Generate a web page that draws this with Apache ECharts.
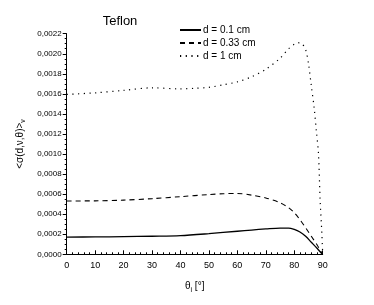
<!DOCTYPE html>
<html><head><meta charset="utf-8">
<script src="https://cdn.jsdelivr.net/npm/echarts@6/dist/echarts.min.js"></script>
<style>html,body{margin:0;padding:0;background:#fff}#c{width:374px;height:305px}</style>
</head><body><div id="c"></div>
<script>
const title = 'Teflon';
const seriesNames = ['d = 0.1 cm', 'd = 0.33 cm', 'd = 1 cm'];
const yTickLabels = ['0,0000','0,0002','0,0004','0,0006','0,0008','0,0010','0,0012','0,0014','0,0016','0,0018','0,0020','0,0022'];
const xTickLabels = [0,10,20,30,40,50,60,70,80,90];

const thetaA = [0, 10, 20, 30, 40, 50, 60, 65, 70, 75, 78, 80, 82, 84, 86, 88, 89, 90];
const solid  = [0.000172, 0.000173, 0.000176, 0.000180, 0.000186, 0.000206, 0.000230, 0.000242, 0.000253, 0.000262, 0.000262, 0.000248, 0.000222, 0.000180, 0.000120, 0.000060, 0.000028, 0.0];

const thetaB = [0, 10, 20, 30, 40, 50, 55, 60, 65, 70, 75, 78, 80, 82, 84, 86, 88, 89, 90];
const dashed = [0.000532, 0.000533, 0.000540, 0.000555, 0.000575, 0.000596, 0.000604, 0.000607, 0.000590, 0.000562, 0.000515, 0.000465, 0.000415, 0.000345, 0.000265, 0.000180, 0.000095, 0.000045, 0.0];

const thetaC = [0, 10, 20, 30, 40, 45, 50, 55, 60, 65, 70, 75, 78, 80, 81, 82.5, 84, 85, 86, 87, 87.8, 88.5, 89.1, 89.7, 90];
const dotted = [0.001595, 0.001610, 0.001635, 0.001660, 0.001650, 0.001655, 0.001665, 0.001690, 0.001720, 0.001770, 0.001845, 0.001955, 0.002050, 0.002095, 0.002110, 0.002105, 0.002040, 0.001900, 0.001680, 0.001460, 0.001220, 0.001010, 0.000540, 0.000210, 0.0];

const pairs = (xs, ys) => xs.map((x, i) => [x, ys[i]]);
const font = 'Liberation Sans, Arial, sans-serif';
const chart = echarts.init(document.getElementById('c'), null, {renderer: 'canvas'});
chart.setOption({
  animation: false,
  backgroundColor: '#fff',
  title: {text: title, left: 115, top: 10, textAlign: 'center',
    textStyle: {fontFamily: font, fontSize: 13, fontWeight: 'normal', color: '#000'}},
  legend: {
    orient: 'vertical', left: 179, top: 25, itemGap: 3, itemWidth: 21, itemHeight: 10,
    padding: 0,
    itemStyle: {opacity: 0},
    textStyle: {fontFamily: font, fontSize: 10, color: '#000', padding: [0,0,0,-3]},
    data: seriesNames
  },
  grid: {left: 66.7, right: 51.3, top: 33.7, bottom: 50.7, containLabel: false},
  xAxis: {
    type: 'value', min: 0, max: 90, interval: 10,
    name: 'θ{s|i} [°]', nameLocation: 'middle', nameGap: 24,
    nameTextStyle: {fontFamily: font, fontSize: 10, color: '#000', rich: {s: {fontSize: 7, verticalAlign: 'bottom', padding: [8,0,0,0], fontFamily: font}}},
    axisLine: {lineStyle: {color: '#000', width: 1}},
    axisTick: {inside: true, length: 4, lineStyle: {color: '#000'}},
    minorTick: {show: true, splitNumber: 5, length: 2, lineStyle: {color: '#000'}},
    axisLabel: {fontFamily: font, fontSize: 9, color: '#000', margin: 7,
      formatter: v => xTickLabels.includes(v) ? String(v) : ''},
    splitLine: {show: false}
  },
  yAxis: {
    type: 'value', min: 0, max: 0.0022, interval: 0.0002,
    name: '<σ(d,ν,θ)>{s|ν}', nameLocation: 'middle', nameGap: 30, nameRotate: 90,
    nameTextStyle: {fontFamily: font, fontSize: 10, color: '#000', padding: [0,0,0,0], rich: {s: {fontSize: 7, fontFamily: font, padding: [6,0,0,0]}}},
    axisLine: {show: true, lineStyle: {color: '#000', width: 1}},
    axisTick: {inside: false, length: 4, lineStyle: {color: '#000'}},
    minorTick: {show: true, splitNumber: 4, length: 2, lineStyle: {color: '#000'}},
    axisLabel: {fontFamily: font, fontSize: 8, color: '#000', margin: 5,
      formatter: v => yTickLabels[Math.round(v / 0.0002)] || ''},
    splitLine: {show: false}
  },
  series: [
    {name: seriesNames[0], type: 'line', data: pairs(thetaA, solid), smooth: 0.3, symbol: 'none',
     lineStyle: {color: '#000', width: 1.3, type: 'solid'}, itemStyle: {color: '#000'}},
    {name: seriesNames[1], type: 'line', data: pairs(thetaB, dashed), smooth: 0.3, symbol: 'none',
     lineStyle: {color: '#000', width: 1.1, type: [5, 4]}, itemStyle: {color: '#000'}},
    {name: seriesNames[2], type: 'line', data: pairs(thetaC, dotted), smooth: 0.3, symbol: 'none',
     lineStyle: {color: '#000', width: 1.2, type: [1.2, 4.5]}, itemStyle: {color: '#000'}}
  ]
});
</script></body></html>
